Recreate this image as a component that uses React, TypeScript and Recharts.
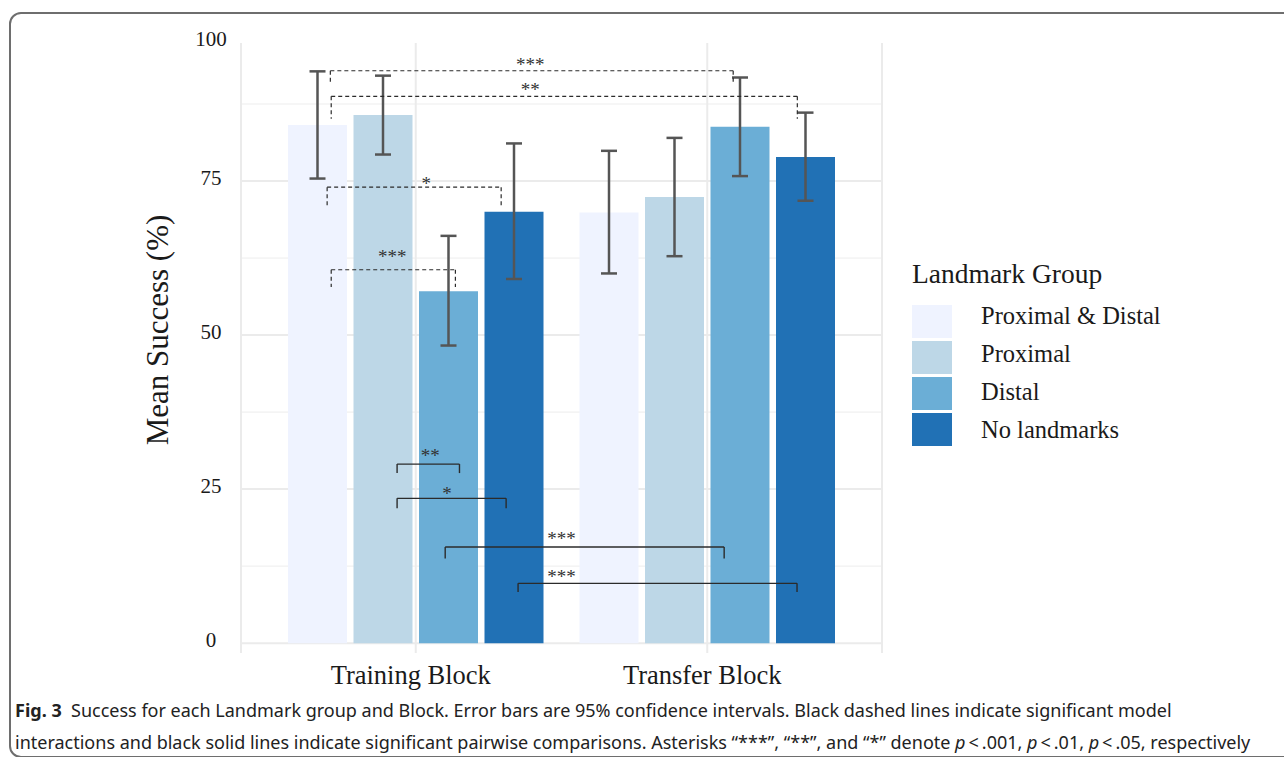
import React from "react";
import {
  Bar,
  CartesianGrid,
  ComposedChart,
  ErrorBar,
  Legend,
  ReferenceDot,
  ReferenceLine,
  XAxis,
  YAxis,
} from "recharts";

const blocks = ["Training Block", "Transfer Block"];
const groups = ["Proximal & Distal", "Proximal", "Distal", "No landmarks"];
const groupKeys = ["pd", "p", "d", "nl"];
const groupColors = ["#EFF3FF", "#BDD7E7", "#6BAED6", "#2171B5"];

// mean success (%), [training, transfer]
const meanPD = [84.1, 69.9];
const meanP = [85.7, 72.4];
const meanD = [57.1, 83.8];
const meanNL = [70.0, 78.9];

// 95% confidence interval bounds
const lowPD = [75.4, 60.0];
const highPD = [92.8, 79.9];
const lowP = [79.3, 62.8];
const highP = [92.1, 82.0];
const lowD = [48.3, 75.8];
const highD = [66.1, 91.8];
const lowNL = [59.1, 71.8];
const highNL = [81.1, 86.1];

const yTicks = [0, 25, 50, 75];
const yMinorTicks = [12.5, 37.5, 62.5, 87.5];

// significance brackets; x in block units (0-2 across both blocks), y in %
const bracketLabels = ["***", "**", "*", "***", "**", "*", "***", "***"];
const bracketDashed = [true, true, true, true, false, false, false, false];
const bracketX1 = [0.207, 0.21, 0.196, 0.21, 0.436, 0.436, 0.601, 0.851];
const bracketX2 = [1.589, 1.809, 0.793, 0.636, 0.65, 0.81, 1.558, 1.808];
const bracketY = [92.9, 88.75, 74.0, 60.6, 29.06, 23.5, 15.6, 9.7];
const bracketFoot = [91.0, 85.1, 70.6, 57.8, 27.6, 21.9, 13.75, 8.3];
const starX = [0.893, 0.893, 0.536, 0.419, 0.55, 0.607, 1.0, 1.0];
const starY = [94.3, 90.3, 75.0, 63.1, 30.8, 24.7, 17.4, 11.2];

const means = [meanPD, meanP, meanD, meanNL];
const lows = [lowPD, lowP, lowD, lowNL];
const highs = [highPD, highP, highD, highNL];

const data = blocks.map((block, i) => {
  const row: Record<string, any> = { block, pos: i + 0.5 };
  groupKeys.forEach((k, g) => {
    row[k] = means[g][i];
    row[k + "Err"] = [means[g][i] - lows[g][i], highs[g][i] - means[g][i]];
  });
  return row;
});

const serif = "'Liberation Serif', 'Times New Roman', serif";
const ink = "#1a1a1a";

function PctTick({ y, payload }: any) {
  return (
    <text x={211} y={y + 3.5} textAnchor="middle" fontFamily={serif} fontSize={21} fill={ink}>
      {payload.value}
    </text>
  );
}

function BlockTick({ x, payload }: any) {
  return (
    <text x={x - 5} y={684} textAnchor="middle" fontFamily={serif} fontSize={26.5} fill={ink}>
      {payload.value}
    </text>
  );
}

function AxisTitle({ viewBox }: any) {
  const top = viewBox.y;
  return (
    <g>
      <text x={211} y={top + 3} textAnchor="middle" fontFamily={serif} fontSize={21} fill={ink}>
        100
      </text>
      <text
        x={157}
        y={330}
        transform="rotate(-90, 157, 330)"
        textAnchor="middle"
        dominantBaseline="central"
        fontFamily={serif}
        fontSize={31}
        fill={ink}
      >
        Mean Success (%)
      </text>
    </g>
  );
}

function GroupLegend({ payload }: any) {
  const items = [...(payload || [])].sort(
    (a: any, b: any) => groups.indexOf(a.value) - groups.indexOf(b.value),
  );
  return (
    <svg width={380} height={210} style={{ display: "block" }}>
      <text x={12} y={33} fontFamily={serif} fontSize={27.5} fill={ink}>
        Landmark Group
      </text>
      {items.map((p: any, i: number) => (
        <g key={p.value}>
          <rect x={12} y={55 + 36 * i} width={40} height={33} fill={p.color} />
          <text x={81} y={74 + 38 * i} fontFamily={serif} fontSize={24.5} fill={ink}>
            {p.value}
          </text>
        </g>
      ))}
    </svg>
  );
}

function StarLabel({ viewBox, value }: any) {
  const cx = viewBox.x + viewBox.width / 2;
  const cy = viewBox.y + viewBox.height / 2;
  return (
    <text x={cx} y={cy + 9} textAnchor="middle" fontFamily={serif} fontSize={19} fill="#333">
      {value}
    </text>
  );
}

export default function App() {
  const brackets = bracketLabels.flatMap((label, i) => {
    const line = {
      xAxisId: "ann",
      stroke: "#2b2b2b",
      strokeWidth: bracketDashed[i] ? 1.2 : 1.4,
      strokeDasharray: bracketDashed[i] ? "4 3" : undefined,
      ifOverflow: "visible" as const,
    };
    return [
      <ReferenceLine
        key={`h${i}`}
        {...line}
        segment={[
          { x: bracketX1[i], y: bracketY[i] },
          { x: bracketX2[i], y: bracketY[i] },
        ]}
      />,
      <ReferenceLine
        key={`l${i}`}
        {...line}
        segment={[
          { x: bracketX1[i], y: bracketY[i] },
          { x: bracketX1[i], y: bracketFoot[i] },
        ]}
      />,
      <ReferenceLine
        key={`r${i}`}
        {...line}
        segment={[
          { x: bracketX2[i], y: bracketY[i] },
          { x: bracketX2[i], y: bracketFoot[i] },
        ]}
      />,
      <ReferenceDot
        key={`s${i}`}
        xAxisId="ann"
        x={starX[i]}
        y={starY[i]}
        r={1}
        fill="none"
        stroke="none"
        ifOverflow="visible"
        label={(props: any) => <StarLabel {...props} value={label} />}
      />,
    ];
  });

  return (
    <div
      style={{
        position: "absolute",
        left: 0,
        top: 0,
        width: 1284,
        height: 757,
        overflow: "hidden",
        background: "#fff",
      }}
    >
      <div
        style={{
          position: "absolute",
          left: 9,
          top: 12,
          width: 1320,
          height: 742,
          border: "2px solid #6e6e6e",
          borderRadius: 12,
        }}
      />
      <div style={{ position: "absolute", left: 0, top: 0 }}>
        <ComposedChart
          width={1284}
          height={757}
          data={data}
          margin={{ top: 43, right: 402, bottom: 54, left: 120 }}
          barSize={59}
          barGap={6.5}
        >
          <CartesianGrid
            stroke="#ededed"
            strokeWidth={1}
            vertical={false}
            horizontalValues={yMinorTicks}
          />
          <CartesianGrid stroke="#ebebeb" strokeWidth={2} horizontalValues={yTicks} />
          <XAxis
            dataKey="block"
            axisLine={false}
            tickLine={false}
            height={50}
            padding={{ left: 29, right: 29 }}
            tick={<BlockTick />}
            interval={0}
          />
          <XAxis
            xAxisId="ann"
            dataKey="pos"
            type="number"
            domain={[0, 2]}
            padding={{ left: 29, right: 29 }}
            allowDataOverflow
            hide
          />
          <YAxis
            domain={[-1.6, 97.4]}
            ticks={yTicks}
            allowDataOverflow
            width={121}
            axisLine={false}
            tickLine={false}
            tick={<PctTick />}
            label={(props: any) => <AxisTitle {...props} />}
          />
          <Legend
            layout="horizontal"
            verticalAlign="middle"
            align="center"
            content={<GroupLegend />}
            wrapperStyle={{ left: 900, top: 250, width: 380, height: 210 }}
          />
          {groupKeys.map((k, g) => (
            <Bar
              key={k}
              dataKey={k}
              name={groups[g]}
              fill={groupColors[g]}
              isAnimationActive={false}
            >
              <ErrorBar
                dataKey={k + "Err"}
                direction="y"
                width={8}
                stroke="#555"
                strokeWidth={2.5}
                isAnimationActive={false}
              />
            </Bar>
          ))}
          {brackets}
        </ComposedChart>
      </div>
      <div
        style={{
          position: "absolute",
          left: 15,
          top: 694,
          fontFamily: "'Noto Sans', 'Open Sans', sans-serif",
          fontSize: 18,
          lineHeight: "32px",
          color: "#222",
          whiteSpace: "nowrap",
        }}
      >
        <div>
          <b>Fig. 3</b>&nbsp;&nbsp;Success for each Landmark group and Block. Error bars are 95%
          confidence intervals. Black dashed lines indicate significant model
        </div>
        <div>
          interactions and black solid lines indicate significant pairwise comparisons. Asterisks
          “***”, “**”, and “*” denote <i>p</i>&thinsp;&lt;&thinsp;.001, <i>p</i>&thinsp;&lt;&thinsp;.01,{" "}
          <i>p</i>&thinsp;&lt;&thinsp;.05, respectively
        </div>
      </div>
    </div>
  );
}
